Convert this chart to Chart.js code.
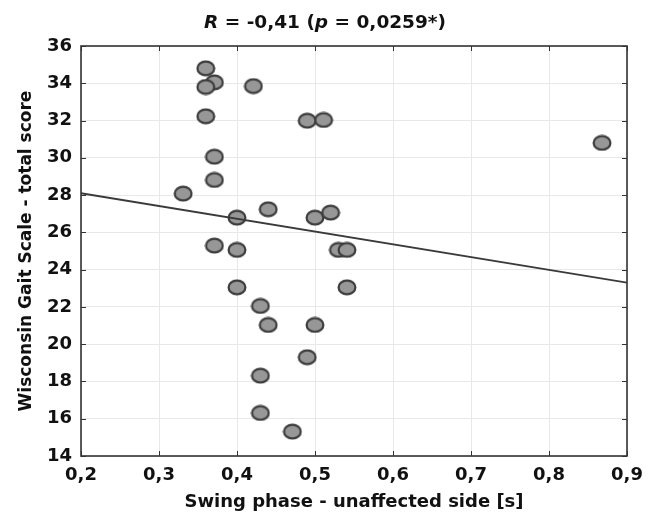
<!DOCTYPE html>
<html>
<head>
<meta charset="utf-8">
<script src="https://cdn.jsdelivr.net/npm/chart.js@4/dist/chart.umd.min.js"></script>
<style>
  html, body { margin: 0; padding: 0; background: #fff; }
  #wrap { width: 657px; height: 516px; }
</style>
</head>
<body>
<div id="wrap"><canvas id="chart" width="657" height="516"></canvas></div>
<script>
// 데이터
const swingX = [0.36, 0.371, 0.36, 0.421, 0.36, 0.49, 0.511, 0.868, 0.371, 0.371,
                0.331, 0.40, 0.44, 0.50, 0.52, 0.371, 0.40, 0.53, 0.541, 0.40,
                0.541, 0.43, 0.44, 0.50, 0.49, 0.43, 0.43, 0.471];
const gaitY = [34.8, 34.05, 33.8, 33.85, 32.23, 31.99, 32.03, 30.8, 30.06, 28.81,
               28.08, 26.79, 27.24, 26.79, 27.06, 25.29, 25.06, 25.06, 25.06, 23.05,
               23.05, 22.05, 21.03, 21.03, 19.3, 18.31, 16.31, 15.31];
const fitX = [0.2, 0.9];
const fitY = [28.1, 23.3];

const titleParts = [['R', true], [' = -0,41 (', false], ['p', true], [' = 0,0259*)', false]];
const xTitle = 'Swing phase - unaffected side [s]';
const yTitle = 'Wisconsin Gait Scale - total score';

const FONT = "'DejaVu Sans', Verdana, sans-serif";
Chart.defaults.font.family = FONT;
Chart.defaults.font.size = 18;
Chart.defaults.font.weight = 'bold';
Chart.defaults.color = '#111';

// 타원 모양 포인트
function makeMarker() {
  const c = document.createElement('canvas');
  c.width = 20; c.height = 17;
  const g = c.getContext('2d');
  g.beginPath();
  g.ellipse(10, 8.5, 8.4, 6.9, 0, 0, Math.PI * 2);
  g.fillStyle = '#979797';
  g.fill();
  g.lineWidth = 2.2;
  g.strokeStyle = '#3d3d3d';
  g.stroke();
  return c;
}

// 제목 (R, p 이탤릭) + 테두리 + 안쪽 눈금
const framePlugin = {
  id: 'frame',
  afterDraw(chart) {
    const ctx = chart.ctx;
    const a = chart.chartArea;
    const xs = chart.scales.x, ys = chart.scales.y;
    ctx.save();
    ctx.strokeStyle = '#333';
    ctx.lineWidth = 1.6;
    ctx.strokeRect(a.left, a.top, a.right - a.left, a.bottom - a.top);
    ctx.lineWidth = 1;
    ctx.beginPath();
    xs.ticks.forEach(t => {
      const px = Math.round(xs.getPixelForValue(t.value)) + 0.5;
      ctx.moveTo(px, a.bottom); ctx.lineTo(px, a.bottom - 5);
      ctx.moveTo(px, a.top); ctx.lineTo(px, a.top + 5);
    });
    ys.ticks.forEach(t => {
      const py = Math.round(ys.getPixelForValue(t.value)) + 0.5;
      ctx.moveTo(a.left, py); ctx.lineTo(a.left + 5, py);
      ctx.moveTo(a.right, py); ctx.lineTo(a.right - 5, py);
    });
    ctx.stroke();

    ctx.fillStyle = '#111';
    ctx.textBaseline = 'alphabetic';
    const widths = titleParts.map(([s, it]) => {
      ctx.font = (it ? 'italic ' : '') + 'bold 18.5px ' + FONT;
      return ctx.measureText(s).width;
    });
    const total = widths.reduce((p, w) => p + w, 0);
    let x = 325 - total / 2;
    titleParts.forEach(([s, it], i) => {
      ctx.font = (it ? 'italic ' : '') + 'bold 18.5px ' + FONT;
      ctx.fillText(s, x, 28);
      x += widths[i];
    });
    ctx.restore();
  }
};

new Chart(document.getElementById('chart'), {
  type: 'scatter',
  data: {
    datasets: [
      {
        type: 'line',
        data: fitX.map((x, i) => ({ x: x, y: fitY[i] })),
        borderColor: '#3a3a3a',
        borderWidth: 1.8,
        pointRadius: 0,
        fill: false,
        order: 0
      },
      {
        data: swingX.map((x, i) => ({ x: x, y: gaitY[i] })),
        pointStyle: makeMarker(),
        order: 1
      }
    ]
  },
  options: {
    responsive: false,
    animation: false,
    layout: { padding: { top: 46, right: 30, left: 0, bottom: 0 } },
    plugins: {
      legend: { display: false },
      tooltip: { enabled: false }
    },
    scales: {
      x: {
        type: 'linear',
        min: 0.2, max: 0.9,
        afterFit(s) { s.height = 60; },
        ticks: {
          stepSize: 0.1,
          padding: 9,
          maxRotation: 0,
          callback: v => v.toFixed(1).replace('.', ',')
        },
        grid: { color: '#e8e8e8', drawTicks: false },
        border: { display: false },
        title: { display: true, text: xTitle, padding: { top: 0, bottom: 3 } }
      },
      y: {
        min: 14, max: 36,
        afterFit(s) { s.width = 81; },
        ticks: { stepSize: 2, padding: 9 },
        grid: { color: '#e8e8e8', drawTicks: false },
        border: { display: false },
        title: { display: true, text: yTitle, font: { size: 17 }, padding: { top: 16, bottom: 0 } }
      }
    }
  },
  plugins: [framePlugin]
});
</script>
</body>
</html>
